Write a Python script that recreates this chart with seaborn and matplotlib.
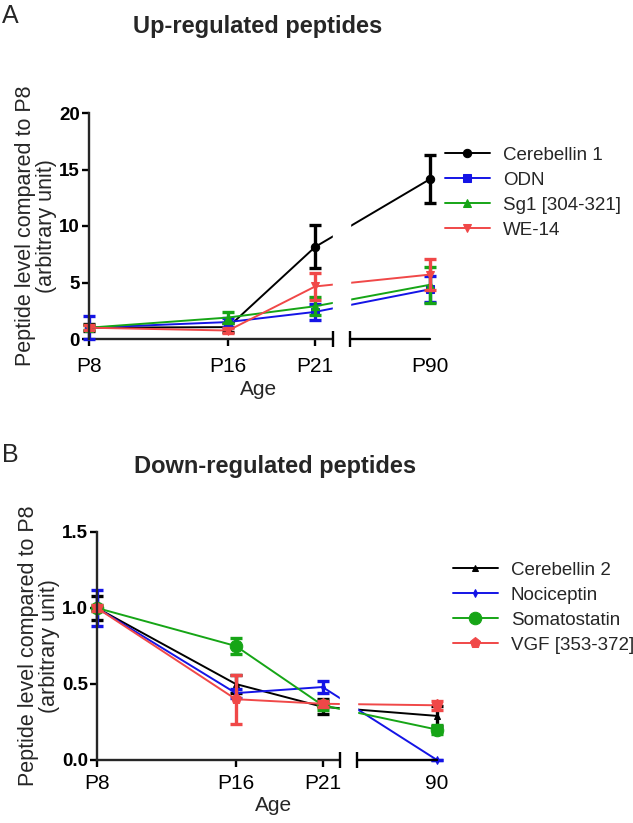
import numpy as np
import matplotlib
matplotlib.use("Agg")
import matplotlib.pyplot as plt
import seaborn as sns

# Ages (P90 is shown after an axis break, so it gets a compressed position)
AGE_LABELS_A = ['P8', 'P16', 'P21', 'P90']
AGE_LABELS_B = ['P8', 'P16', 'P21', '90']
AGE_POS = [8, 16, 21, 27.6]
BREAK = (22, 23)

# Panel A: up-regulated peptides (mean, error)
UP_NAMES = ['Cerebellin 1', 'ODN', 'Sg1 [304-321]', 'WE-14']
UP_MEAN = [[1.0, 1.05, 8.15, 14.15],
           [1.0, 1.5, 2.4, 4.4],
           [1.0, 1.9, 2.9, 4.8],
           [1.0, 0.75, 4.65, 5.7]]
UP_ERR = [[0.3, 0.4, 1.9, 2.1],
          [1.0, 0.4, 0.7, 1.15],
          [0.2, 0.5, 0.8, 1.6],
          [0.2, 0.2, 1.2, 1.4]]

# Panel B: down-regulated peptides (mean, error)
DOWN_NAMES = ['Cerebellin 2', 'Nociceptin', 'Somatostatin', 'VGF [353-372]']
DOWN_MEAN = [[1.0, 0.50, 0.35, 0.29],
             [1.0, 0.44, 0.48, 0.0],
             [1.0, 0.75, 0.36, 0.20],
             [1.0, 0.40, 0.37, 0.36]]
DOWN_ERR = [[0.08, 0.06, 0.05, 0.065],
            [0.12, 0.03, 0.04, 0.0],
            [0.02, 0.05, 0.03, 0.03],
            [0.02, 0.16, 0.02, 0.03]]

COLORS = ['#000000', '#1414e6', '#16a516', '#f04848']
UP_MARKERS = ['o', 's', '^', 'v']
UP_MS = [6, 6, 6, 6]
DOWN_MARKERS = ['^', 'd', 'o', 'p']
DOWN_MS = [5, 4, 9, 8]

sns.set_theme(style="ticks")
plt.rcParams['font.family'] = ['Liberation Sans', 'DejaVu Sans']


def draw_panel(ax, names, means, errs, markers, sizes, xlabels, ylim, yticks, yfmt, xpad):
    for name, m, e, c, mk, ms in zip(names, means, errs, COLORS, markers, sizes):
        sns.lineplot(x=AGE_POS, y=m, ax=ax, color=c, marker=mk, markersize=ms,
                     markeredgecolor=c, linewidth=1.4, label=name, clip_on=False, zorder=3)
        ax.errorbar(AGE_POS, m, yerr=e, fmt='none', ecolor=c, elinewidth=2.4,
                    capsize=4.5, capthick=2.4, clip_on=False, zorder=3)
    # white strip for the axis break
    ax.axvspan(BREAK[0], BREAK[1], color='white', zorder=4, clip_on=False)
    ax.set_xlim(AGE_POS[0], AGE_POS[-1])
    ax.set_ylim(*ylim)
    ax.set_xticks(AGE_POS)
    ax.set_xticklabels(xlabels, fontsize=15)
    ax.set_yticks(yticks)
    ax.set_yticklabels([yfmt.format(t) for t in yticks], fontsize=13.5, fontweight='bold')
    ax.xaxis.get_major_ticks()[3].tick1line.set_visible(False)
    sns.despine(ax=ax)
    for s in ['left', 'bottom']:
        ax.spines[s].set_linewidth(1.7)
    ax.spines['bottom'].set_bounds(AGE_POS[0], BREAK[0])
    ax.spines['left'].set_zorder(5)
    # right segment of the broken x axis and end caps
    ax.plot([BREAK[1], AGE_POS[-1]], [ylim[0], ylim[0]], color='black', lw=1.7,
            clip_on=False, zorder=5)
    ax.plot(BREAK, [ylim[0], ylim[0]], ls='none', marker='|', ms=12, mew=1.7,
            color='black', clip_on=False, zorder=5)
    ax.tick_params(axis='both', width=1.7, length=5, colors='black')
    ax.tick_params(axis='x', pad=xpad)
    ax.tick_params(axis='y', pad=1.5)
    ax.set_xlabel('Age', fontsize=15)
    ax.set_ylabel('Peptide level compared to P8\n(arbitrary unit)', fontsize=15.5,
                  linespacing=1.0)
    ax.legend_.remove()


fig = plt.figure(figsize=(6.33, 8.23), dpi=100)
W, H = 633, 823
axA = fig.add_axes([89 / W, 1 - 339 / H, 341 / W, 226 / H])
axB = fig.add_axes([97 / W, 1 - 760 / H, 340 / W, 228 / H])

draw_panel(axA, UP_NAMES, UP_MEAN, UP_ERR, UP_MARKERS, UP_MS, AGE_LABELS_A,
           (0, 20), [0, 5, 10, 15, 20], '{:g}', 8)
draw_panel(axB, DOWN_NAMES, DOWN_MEAN, DOWN_ERR, DOWN_MARKERS, DOWN_MS, AGE_LABELS_B,
           (0, 1.5), [0.0, 0.5, 1.0, 1.5], '{:.1f}', 5)

axA.yaxis.set_label_coords(-0.093, 0.5)
axA.xaxis.set_label_coords(0.496, -0.18)
axB.yaxis.set_label_coords(-0.11, 0.5)
axB.xaxis.set_label_coords(0.518, -0.16)

for ax, x, y in [(axA, 428, 130), (axB, 436, 545)]:
    h, l = ax.get_legend_handles_labels()
    fig.legend(h, l, loc='upper left', bbox_to_anchor=(x / W, 1 - y / H),
               frameon=False, fontsize=13.5, handlelength=2.4, labelspacing=0.42,
               handletextpad=0.7)

fig.text(258 / W, 1 - 27 / H, 'Up-regulated peptides', ha='center', va='center',
         fontsize=17, fontweight='bold')
fig.text(275 / W, 1 - 467 / H, 'Down-regulated peptides', ha='center', va='center',
         fontsize=17, fontweight='bold')
fig.text(2 / W, 1 - 16 / H, 'A', ha='left', va='center', fontsize=18)
fig.text(2 / W, 1 - 455 / H, 'B', ha='left', va='center', fontsize=18)

fig.savefig('out.png', dpi=100)
